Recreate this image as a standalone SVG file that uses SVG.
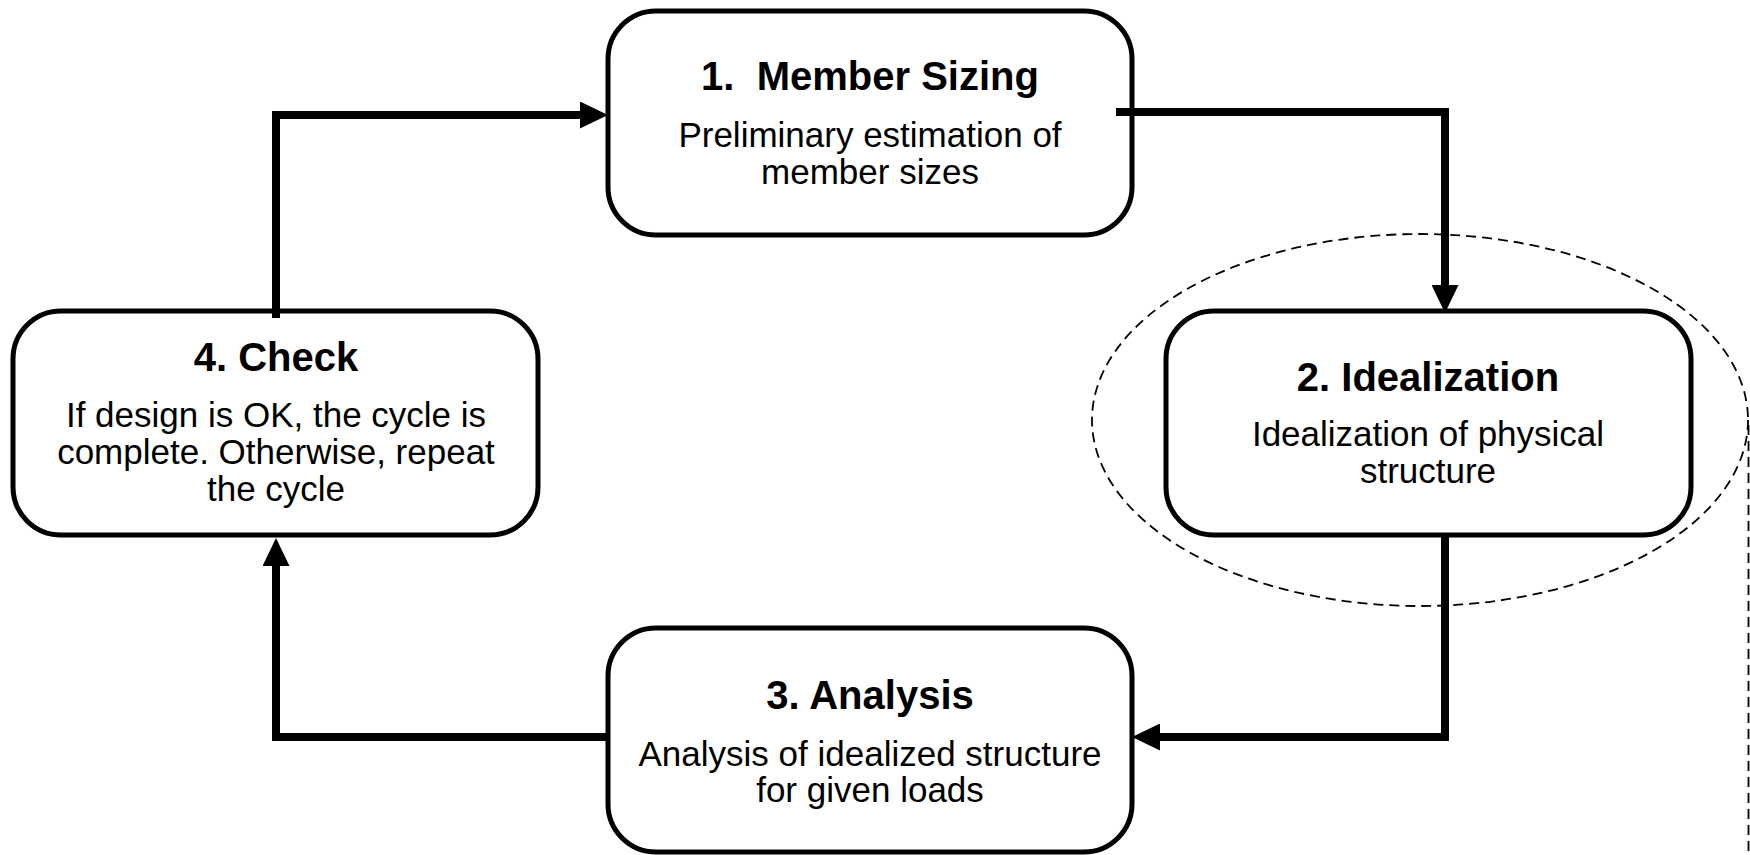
<svg xmlns="http://www.w3.org/2000/svg" width="1750" height="855" viewBox="0 0 1750 855">
<style>
.box{fill:#fff;stroke:#000;stroke-width:5}
.t{font-family:"Liberation Sans",Arial,sans-serif;font-weight:bold;font-size:40px;text-anchor:middle;fill:#000}
.b{font-family:"Liberation Sans",Arial,sans-serif;font-size:35px;text-anchor:middle;fill:#000}
.c{fill:none;stroke:#000;stroke-width:8;stroke-linejoin:miter;stroke-linecap:butt}
.d{fill:none;stroke:#000;stroke-width:1.8;stroke-dasharray:10 6}
</style>
<defs>
<marker id="ah" markerUnits="userSpaceOnUse" markerWidth="28" markerHeight="27" refX="0" refY="13.5" orient="auto" viewBox="0 0 28 27">
<path d="M0,0 L28,13.5 L0,27 z" fill="#000"/>
</marker>
</defs>
<rect width="1750" height="855" fill="#fff"/>
<g id="node1">
<rect class="box" x="608" y="11" width="524" height="224" rx="48" ry="48"/>
<text class="t" x="870" y="90" xml:space="preserve">1.  Member Sizing</text>
<text class="b" x="870" y="147">Preliminary estimation of</text>
<text class="b" x="870" y="184">member sizes</text>
</g>
<g id="node2">
<rect class="box" x="1166" y="311" width="525" height="224" rx="48" ry="48"/>
<text class="t" x="1428" y="391">2. Idealization</text>
<text class="b" x="1428" y="446">Idealization of physical</text>
<text class="b" x="1428" y="483">structure</text>
</g>
<g id="node3">
<rect class="box" x="608" y="628" width="524" height="224" rx="48" ry="48"/>
<text class="t" x="870" y="709">3. Analysis</text>
<text class="b" x="870" y="766">Analysis of idealized structure</text>
<text class="b" x="870" y="802">for given loads</text>
</g>
<g id="node4">
<rect class="box" x="13" y="311" width="525" height="224" rx="48" ry="48"/>
<text class="t" x="276" y="371">4. Check</text>
<text class="b" x="276" y="427">If design is OK, the cycle is</text>
<text class="b" x="276" y="464">complete. Otherwise, repeat</text>
<text class="b" x="276" y="501">the cycle</text>
</g>
<g id="group-outline">
<ellipse class="d" cx="1420" cy="420" rx="328" ry="186"/>
<line class="d" x1="1748.5" y1="425" x2="1748.5" y2="855" stroke-dasharray="8 5"/>
</g>
<g id="connectors">
<path class="c" d="M1116,112 H1445 V285" marker-end="url(#ah)"/>
<path class="c" d="M1445,533 V737 H1160" marker-end="url(#ah)"/>
<path class="c" d="M608,737 H276 V566" marker-end="url(#ah)"/>
<path class="c" d="M276,318 V115 H580" marker-end="url(#ah)"/>
</g>
</svg>
